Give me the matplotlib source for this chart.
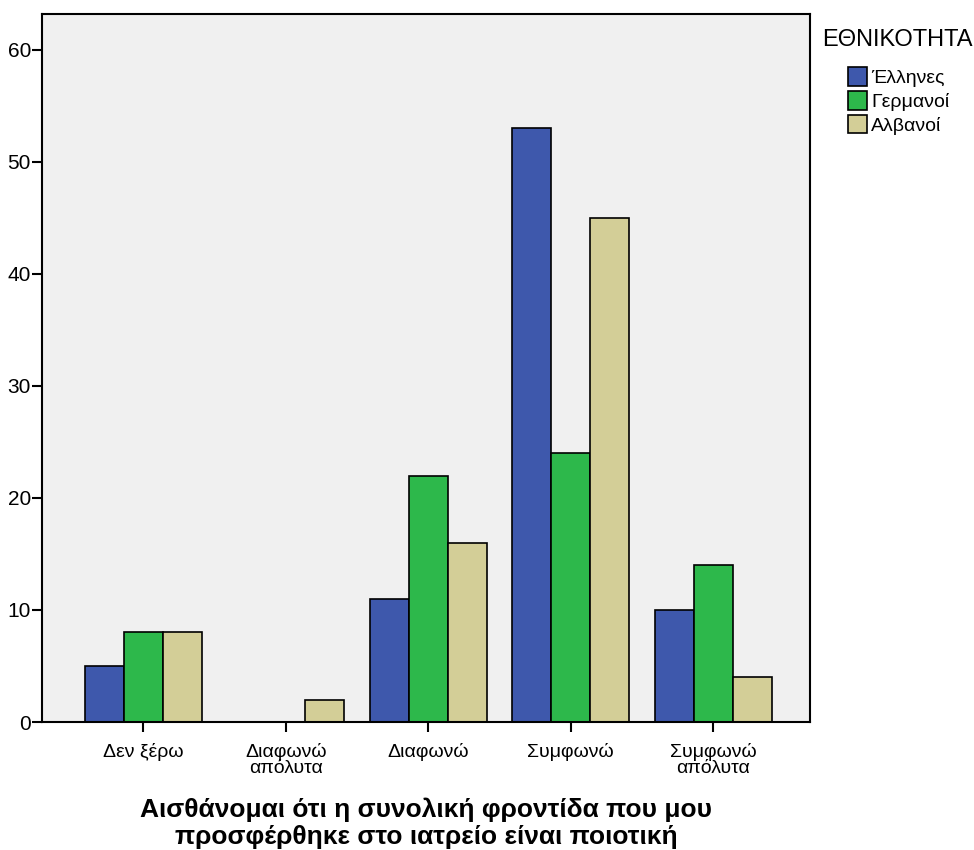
import matplotlib
matplotlib.use("Agg")
import matplotlib.pyplot as plt
import numpy as np
from matplotlib.patches import Patch

plt.rcParams['font.family'] = ['Liberation Sans', 'DejaVu Sans']

categories = ["Δεν ξέρω", "Διαφωνώ\nαπόλυτα", "Διαφωνώ", "Συμφωνώ", "Συμφωνώ\nαπόλυτα"]
series_names = ["Έλληνες", "Γερμανοί", "Αλβανοί"]
greeks = [5, 0, 11, 53, 10]
germans = [8, 0, 22, 24, 14]
albanians = [8, 2, 16, 45, 4]
colors = ["#3e58ac", "#2db84b", "#d3ce97"]

W, H = 974, 850
fig = plt.figure(figsize=(W / 100, H / 100), dpi=100)
ax = fig.add_axes([42 / W, (H - 722) / H, 768 / W, 708 / H])
ax.set_facecolor("#f0f0f0")

x = np.arange(len(categories))
bw = 0.274
for i, (vals, name, c) in enumerate(zip([greeks, germans, albanians], series_names, colors)):
    vals = np.array(vals, dtype=float)
    mask = vals > 0
    ax.bar(x[mask] + (i - 1) * bw, vals[mask], width=bw, color=c, edgecolor="black",
           linewidth=1.2, label=name, zorder=2)

ax.set_xlim(-0.71, 4.68)
ax.set_ylim(0, 63.2)
ax.set_yticks([0, 10, 20, 30, 40, 50, 60])
ax.set_xticks(x)
ax.set_xticklabels(categories, fontsize=14, linespacing=0.95)
ax.tick_params(axis='y', labelsize=15, length=7, width=1.5, direction='out', pad=1)
ax.tick_params(axis='x', length=7, width=1.5, direction='out', pad=8)
for s in ax.spines.values():
    s.set_linewidth(1.5)

ax.set_xlabel("Αισθάνομαι ότι η συνολική φροντίδα που μου\nπροσφέρθηκε στο ιατρείο είναι ποιοτική",
              fontsize=19, fontweight='bold', labelpad=15, linespacing=1.12)

fig.text(822 / W, 1 - 40 / H, "ΕΘΝΙΚΟΤΗΤΑ", fontsize=17, ha='left', va='center')
handles = [Patch(facecolor=c, edgecolor='black', linewidth=1.2) for c in colors]
leg = fig.legend(handles, series_names, loc='upper left', bbox_to_anchor=(848 / W, 1 - 67 / H),
                 frameon=False, fontsize=14, handlelength=1.0, handleheight=1.1,
                 handletextpad=0.2, labelspacing=0.2, borderpad=0.0, borderaxespad=0.0)

fig.savefig("out.png", dpi=100)
